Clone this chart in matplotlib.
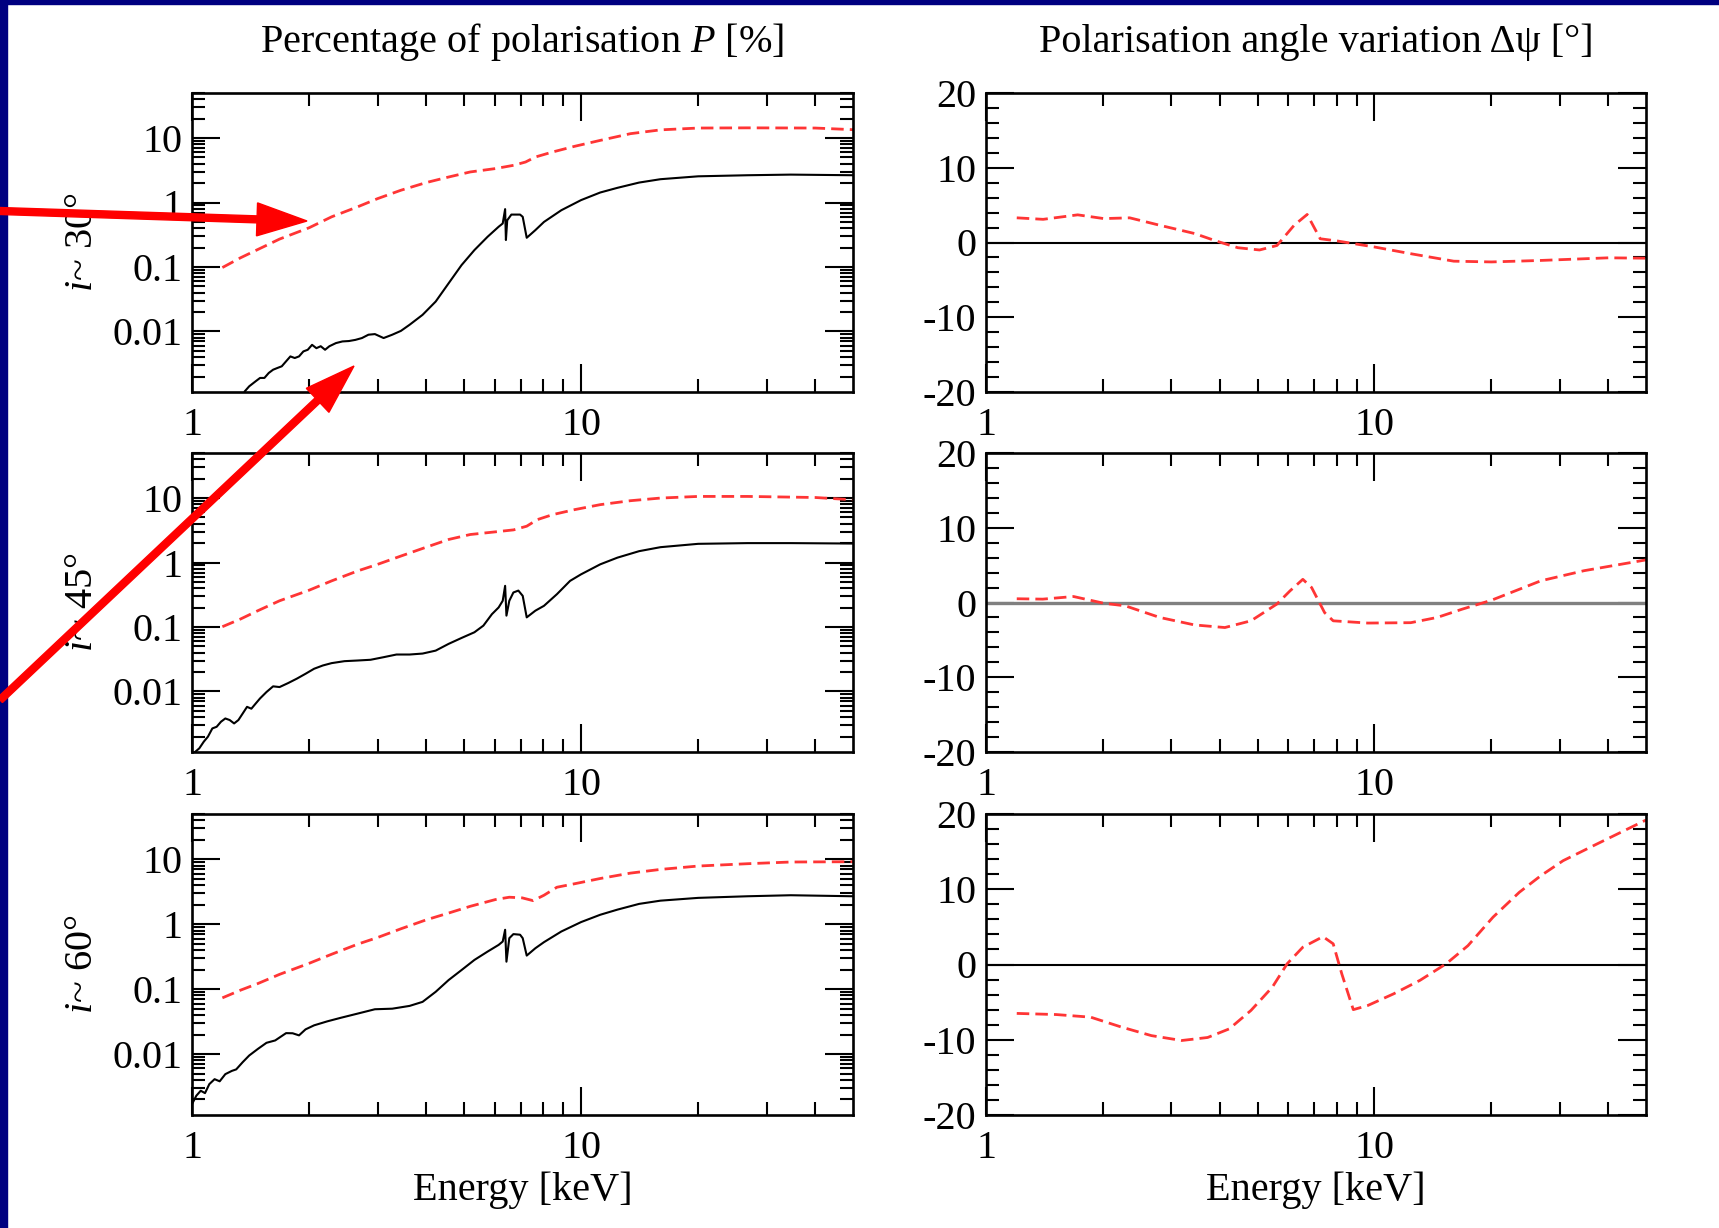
import matplotlib
matplotlib.use("Agg")
import matplotlib.pyplot as plt
from matplotlib.patches import FancyArrow, Rectangle
from matplotlib.ticker import FixedLocator, FixedFormatter, NullFormatter, MultipleLocator

plt.rcParams['font.family'] = ['Liberation Serif', 'DejaVu Serif']
plt.rcParams['mathtext.fontset'] = 'custom'
plt.rcParams['mathtext.rm'] = 'Liberation Serif'
plt.rcParams['mathtext.it'] = 'Liberation Serif:italic'
plt.rcParams['axes.unicode_minus'] = False

# ---------------- data ----------------
row_labels = ["$i$~ 30°", "$i$~ 45°", "$i$~ 60°"]
title_left = "Percentage of polarisation $P$ [%]"
title_right = "Polarisation angle variation Δψ [°]"
xlabel = "Energy [keV]"

# i ~ 30 deg, polarisation degree
E30_black = [1.367, 1.403, 1.458, 1.496, 1.535, 1.575, 1.616, 1.657, 1.701, 1.745, 1.79, 1.837,
             1.884, 1.933, 1.984, 2.035, 2.088, 2.142, 2.198, 2.255, 2.344, 2.436, 2.531, 2.63,
             2.734, 2.841, 2.952, 3.108, 3.271, 3.443, 3.625, 3.914, 4.23, 4.566, 4.93, 5.32,
             5.75, 6.14, 6.29, 6.38, 6.41, 6.46, 6.62, 6.97, 7.08, 7.25, 7.63, 8.03, 8.9, 10.0,
             11.2, 12.4, 14.1, 16.0, 20.0, 26.8, 34.6, 50.0]
P30_black = [0.00118, 0.00141, 0.00169, 0.0019, 0.0019, 0.00227, 0.00255, 0.00271, 0.00288,
             0.00344, 0.0041, 0.00387, 0.0041, 0.0049, 0.0052, 0.0062, 0.0055, 0.0059, 0.0052,
             0.0059, 0.0066, 0.0070, 0.0071, 0.0074, 0.0079, 0.0089, 0.0091, 0.0079, 0.0089,
             0.0102, 0.0127, 0.0181, 0.0291, 0.0558, 0.107, 0.183, 0.294, 0.421, 0.473, 0.79,
             0.262, 0.53, 0.65, 0.65, 0.60, 0.284, 0.373, 0.50, 0.76, 1.09, 1.43, 1.69, 2.04,
             2.3, 2.55, 2.65, 2.71, 2.65]
E30_red = [1.197, 1.333, 1.477, 1.679, 2.0, 2.285, 2.665, 3.0, 3.443, 4.0, 4.57, 5.19, 6.02,
           6.71, 7.2, 7.63, 8.45, 9.61, 11.2, 13.4, 16.0, 20.0, 26.8, 40.0, 50.0]
P30_red = [0.098, 0.139, 0.187, 0.271, 0.406, 0.60, 0.857, 1.15, 1.55, 2.04, 2.49, 2.98, 3.36,
           3.78, 4.25, 5.08, 6.08, 7.43, 9.2, 11.7, 13.4, 14.3, 14.4, 14.3, 13.5]

# i ~ 45 deg
E45_black = [1.0, 1.044, 1.072, 1.099, 1.128, 1.157, 1.187, 1.218, 1.25, 1.283, 1.316, 1.35,
             1.385, 1.421, 1.458, 1.496, 1.554, 1.616, 1.679, 1.767, 1.86, 1.958, 2.06, 2.17,
             2.285, 2.466, 2.665, 2.877, 3.108, 3.354, 3.625, 3.914, 4.23, 4.566, 4.93, 5.32,
             5.61, 5.9, 6.14, 6.29, 6.38, 6.43, 6.54, 6.7, 6.9, 7.08, 7.25, 7.63, 8.03, 8.67,
             9.37, 10.0, 11.2, 12.4, 14.1, 16.0, 20.0, 26.8, 34.6, 50.0]
P45_black = [0.00105, 0.00131, 0.00166, 0.00199, 0.00267, 0.00283, 0.00339, 0.00381, 0.0036,
             0.00319, 0.0036, 0.00455, 0.00577, 0.0054, 0.0065, 0.0078, 0.0098, 0.012, 0.0117,
             0.0135, 0.0158, 0.0188, 0.0225, 0.0253, 0.0275, 0.0295, 0.0302, 0.031, 0.034,
             0.0374, 0.0374, 0.0387, 0.043, 0.0547, 0.0676, 0.0828, 0.105, 0.158, 0.201, 0.255,
             0.435, 0.150, 0.255, 0.343, 0.367, 0.304, 0.141, 0.179, 0.213, 0.323, 0.519, 0.656,
             0.937, 1.19, 1.5, 1.73, 1.95, 2.0, 2.0, 1.97]
E45_red = [1.197, 1.333, 1.477, 1.679, 2.0, 2.285, 2.665, 3.0, 3.443, 4.0, 4.57, 5.19, 6.02,
           6.71, 7.25, 7.72, 8.45, 9.61, 11.2, 13.4, 16.0, 20.0, 26.8, 40.0, 50.0]
P45_red = [0.101, 0.133, 0.179, 0.255, 0.372, 0.519, 0.74, 0.937, 1.26, 1.73, 2.28, 2.72, 2.99,
           3.21, 3.66, 4.63, 5.53, 6.6, 7.9, 9.1, 10.0, 10.6, 10.6, 10.2, 9.4]

# i ~ 60 deg
E60_black = [1.0, 1.026, 1.053, 1.08, 1.108, 1.143, 1.178, 1.218, 1.266, 1.299, 1.35, 1.403,
             1.477, 1.554, 1.636, 1.745, 1.814, 1.884, 1.958, 2.06, 2.227, 2.404, 2.665, 2.952,
             3.271, 3.625, 3.914, 4.23, 4.566, 4.93, 5.32, 5.75, 6.14, 6.29, 6.38, 6.43, 6.54,
             6.7, 6.97, 7.08, 7.25, 7.63, 8.03, 8.9, 10.0, 11.2, 12.4, 14.1, 16.0, 20.0, 26.8,
             34.6, 50.0]
P60_black = [0.00169, 0.00228, 0.00272, 0.0025, 0.00344, 0.0041, 0.0038, 0.0049, 0.0055, 0.0058,
             0.0075, 0.0095, 0.012, 0.0149, 0.0162, 0.021, 0.0209, 0.0194, 0.024, 0.0277, 0.0319,
             0.036, 0.042, 0.049, 0.05, 0.0552, 0.0637, 0.091, 0.138, 0.197, 0.282, 0.379, 0.481,
             0.542, 0.822, 0.265, 0.61, 0.705, 0.69, 0.61, 0.329, 0.427, 0.53, 0.774, 1.08, 1.4,
             1.68, 2.06, 2.31, 2.55, 2.7, 2.8, 2.7]
E60_red = [1.197, 1.333, 1.477, 1.679, 2.0, 2.285, 2.665, 3.0, 3.443, 4.0, 4.57, 5.19, 6.02,
           6.54, 7.06, 7.53, 8.03, 8.67, 9.61, 11.2, 13.4, 16.0, 20.0, 26.8, 34.6, 50.0]
P60_red = [0.0734, 0.0965, 0.122, 0.169, 0.25, 0.345, 0.493, 0.625, 0.851, 1.17, 1.49, 1.89,
           2.4, 2.61, 2.55, 2.31, 2.8, 3.72, 4.2, 5.07, 6.14, 7.0, 7.89, 8.57, 9.1, 9.2]

# polarisation angle variation (degrees)
E30_psi = [1.2, 1.403, 1.722, 2.01, 2.344, 2.804, 3.443, 3.914, 4.45, 5.06, 5.61, 6.21, 6.71,
           7.25, 8.03, 10.0, 12.4, 16.0, 20.0, 26.8, 40.0, 50.0]
D30_psi = [3.3, 3.1, 3.7, 3.2, 3.3, 2.3, 1.2, 0.2, -0.7, -1.0, -0.4, 2.3, 3.75, 0.5, 0.2, -0.6,
           -1.5, -2.5, -2.6, -2.4, -2.05, -2.1]
E45_psi = [1.2, 1.4, 1.68, 2.01, 2.285, 2.8, 3.44, 4.12, 4.81, 5.61, 6.06, 6.54, 6.89, 7.44,
           7.83, 9.61, 12.4, 14.5, 16.8, 20.0, 26.8, 34.6, 50.0]
D45_psi = [0.5, 0.45, 0.8, -0.1, -0.45, -2.0, -3.0, -3.35, -2.45, -0.2, 1.55, 3.1, 2.0, -1.35,
           -2.45, -2.75, -2.7, -2.0, -0.9, 0.3, 2.9, 4.25, 5.7]
E60_psi = [1.2, 1.515, 1.86, 2.227, 2.665, 3.19, 3.72, 4.23, 4.81, 5.46, 5.96, 6.54, 7.37, 7.83,
           8.24, 8.82, 9.61, 11.2, 13.1, 15.3, 17.4, 20.2, 23.6, 26.8, 30.6, 37.5, 50.0]
D60_psi = [-6.5, -6.65, -7.0, -8.3, -9.45, -10.1, -9.7, -8.55, -6.1, -3.0, 0.1, 2.3, 3.7, 2.75,
           -1.25, -6.0, -5.45, -3.9, -2.1, 0.1, 2.5, 6.3, 9.6, 11.8, 13.8, 16.05, 19.2]

pol_black = [(E30_black, P30_black), (E45_black, P45_black), (E60_black, P60_black)]
pol_red = [(E30_red, P30_red), (E45_red, P45_red), (E60_red, P60_red)]
psi_red = [(E30_psi, D30_psi), (E45_psi, D45_psi), (E60_psi, D60_psi)]

x_major = [1, 10]
x_major_labels = ["1", "10"]
x_minor = [2, 3, 4, 5, 6, 7, 8, 9, 20, 30, 40]
p_major = [0.01, 0.1, 1, 10]
p_major_labels = ["0.01", "0.1", "1", "10"]
p_minor = [m * 10.0 ** k for k in range(-3, 2) for m in range(2, 10)]
psi_major = [-20, -10, 0, 10, 20]
psi_major_labels = ["-20", "-10", "0", "10", "20"]

# ---------------- figure ----------------
W, H = 1719, 1228
fig = plt.figure(figsize=(W / 100, H / 100), dpi=100)
fig.patch.set_facecolor('white')

cols = [(192, 853), (986, 1646)]
rows = [(93, 392), (453, 752), (814, 1115)]
FS = 29
RED = '#ff3535'


def style(ax):
    for s in ax.spines.values():
        s.set_linewidth(1.9)
    ax.tick_params(which='both', direction='in', top=True, right=True, width=1.5,
                   labelsize=FS)
    ax.tick_params(axis='x', which='both', pad=11)
    ax.tick_params(axis='y', which='both', pad=7)
    ax.tick_params(which='major', length=20)
    ax.tick_params(which='minor', length=9.5)
    ax.set_xscale('log')
    ax.set_xlim(1, 50)
    ax.xaxis.set_major_locator(FixedLocator(x_major))
    ax.xaxis.set_major_formatter(FixedFormatter(x_major_labels))
    ax.xaxis.set_minor_locator(FixedLocator(x_minor))
    ax.xaxis.set_minor_formatter(NullFormatter())


for r, (y0, y1) in enumerate(rows):
    # left: polarisation degree
    x0, x1 = cols[0]
    ax = fig.add_axes([x0 / W, 1 - y1 / H, (x1 - x0) / W, (y1 - y0) / H])
    style(ax)
    ax.set_yscale('log')
    ax.set_ylim(0.00115, 50)
    ax.yaxis.set_major_locator(FixedLocator(p_major))
    ax.yaxis.set_major_formatter(FixedFormatter(p_major_labels))
    ax.yaxis.set_minor_locator(FixedLocator(p_minor))
    ax.yaxis.set_minor_formatter(NullFormatter())
    Eb, Pb = pol_black[r]
    Er, Pr = pol_red[r]
    ax.plot(Eb, Pb, color='black', lw=1.5)
    ax.plot(Er, Pr, color=RED, lw=2.0, dashes=(4.5, 2.2))
    fig.text(82 / W, 1 - (y0 + y1) / 2 / H, row_labels[r], rotation=90,
             ha='center', va='center', fontsize=FS)

    # right: angle variation
    x0, x1 = cols[1]
    ax2 = fig.add_axes([x0 / W, 1 - y1 / H, (x1 - x0) / W, (y1 - y0) / H])
    style(ax2)
    ax2.set_ylim(-20, 20)
    ax2.yaxis.set_major_locator(FixedLocator(psi_major))
    ax2.yaxis.set_major_formatter(FixedFormatter(psi_major_labels))
    ax2.yaxis.set_minor_locator(MultipleLocator(2))
    ax2.axhline(0, color=('#808080' if r == 1 else 'black'), lw=(2.4 if r == 1 else 1.5))
    Ed, Dd = psi_red[r]
    ax2.plot(Ed, Dd, color=RED, lw=2.0, dashes=(4.5, 2.2))

# titles and axis labels
fig.text((cols[0][0] + cols[0][1]) / 2 / W, 1 - 42 / H, title_left, ha='center', va='center',
         fontsize=FS)
fig.text((cols[1][0] + cols[1][1]) / 2 / W, 1 - 42 / H, title_right, ha='center', va='center',
         fontsize=FS)
for c in cols:
    fig.text((c[0] + c[1]) / 2 / W, 1 - 1190 / H, xlabel, ha='center', va='center', fontsize=FS)

# navy frame (top and left edges)
fig.add_artist(Rectangle((0, 1 - 4 / H), 1, 4 / H, transform=fig.transFigure,
                         color='#000080', zorder=5))
fig.add_artist(Rectangle((0, 0), 7 / W, 1, transform=fig.transFigure,
                         color='#000080', zorder=5))

# red annotation arrows (pixel positions converted to inches)
def arrow(px0, py0, px1, py1):
    x0i, y0i = px0 / 100, (H - py0) / 100
    x1i, y1i = px1 / 100, (H - py1) / 100
    a = FancyArrow(x0i, y0i, x1i - x0i, y1i - y0i, width=0.07, head_width=0.33,
                   head_length=0.50, length_includes_head=True, color='#ff0000',
                   transform=fig.dpi_scale_trans, zorder=10)
    fig.add_artist(a)

arrow(0, 211, 307, 221)
arrow(0, 700, 354, 366)

fig.savefig("out.png", dpi=100)
